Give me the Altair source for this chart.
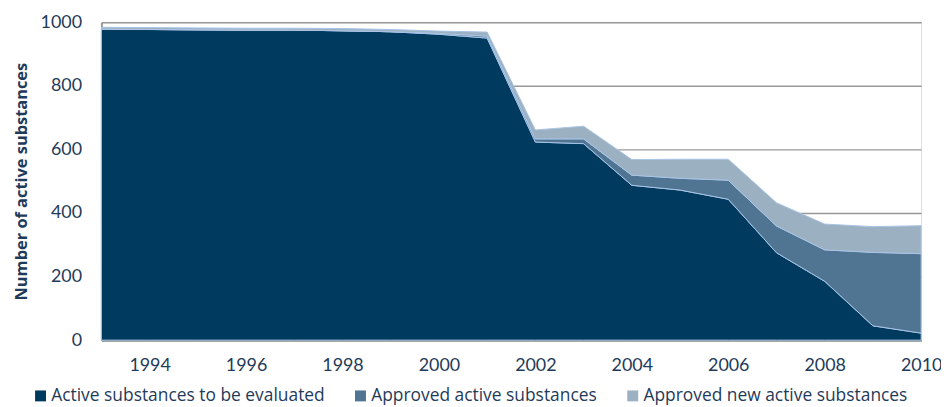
import altair as alt
import pandas as pd

years = list(range(1993, 2011))
to_be_evaluated = [978, 977, 976, 975, 975, 973, 970, 962, 950, 623, 618, 487, 472, 443, 275, 185, 45, 22]
approved = [0, 0, 0, 0, 0, 0, 0, 3, 6, 10, 15, 32, 37, 60, 84, 99, 231, 250]
approved_new = [6, 6, 6, 6, 6, 7, 7, 7, 13, 28, 40, 49, 60, 66, 73, 81, 81, 88]

series = ["Active substances to be evaluated", "Approved active substances", "Approved new active substances"]
colors = ["#013A5F", "#4F7592", "#9BB0C0"]

rows = []
for i, y in enumerate(years):
    for k, (name, vals) in enumerate(zip(series, [to_be_evaluated, approved, approved_new])):
        rows.append({"year": y, "series": name, "value": vals[i], "order": k})
df = pd.DataFrame(rows)

txt = "#1F3B5A"
chart = alt.Chart(df).mark_area(stroke="#A8C4E6", strokeWidth=1, opacity=1).encode(
    x=alt.X("year:Q", scale=alt.Scale(domain=[1993, 2010], nice=False, zero=False),
            axis=alt.Axis(values=list(range(1994, 2011, 2)), format="d", title=None, grid=False,
                          ticks=False, domainColor="#989898", domainWidth=2, labelFontSize=18,
                          labelColor=txt, labelPadding=17, labelFont="Lato", labelFlush=False)),
    y=alt.Y("value:Q", stack="zero", scale=alt.Scale(domain=[0, 1000], nice=False),
            axis=alt.Axis(values=[0, 200, 400, 600, 800, 1000], format="d",
                          title="Number of active substances",
                          titleFontSize=16.5, titleFontWeight="bold", titleColor=txt, titleFont="Open Sans",
                          titlePadding=11, labelFontSize=18, labelColor=txt, labelFont="Lato",
                          ticks=False, labelPadding=20, domainColor="#989898", domainWidth=2,
                          gridColor="#989898", gridWidth=1.5)),
    color=alt.Color("series:N", scale=alt.Scale(domain=series, range=colors),
                    legend=alt.Legend(title=None, orient="none", direction="horizontal",
                                      legendX=-70, legendY=367, symbolType="square", symbolSize=121,
                                      symbolStrokeWidth=0, labelFontSize=17.5, labelColor=txt,
                                      labelFont="Open Sans", columnPadding=27, symbolOffset=0,
                                      labelOffset=2, labelLimit=0)),
    order=alt.Order("order:Q"),
).properties(
    width=825, height=320,
    autosize=alt.AutoSizeParams(type="none"),
    padding={"left": 94, "top": 13, "right": 20, "bottom": 66},
).configure_view(stroke=None).configure(background="white")

chart.save("out.html", embed_options={"renderer": "svg", "actions": False})
